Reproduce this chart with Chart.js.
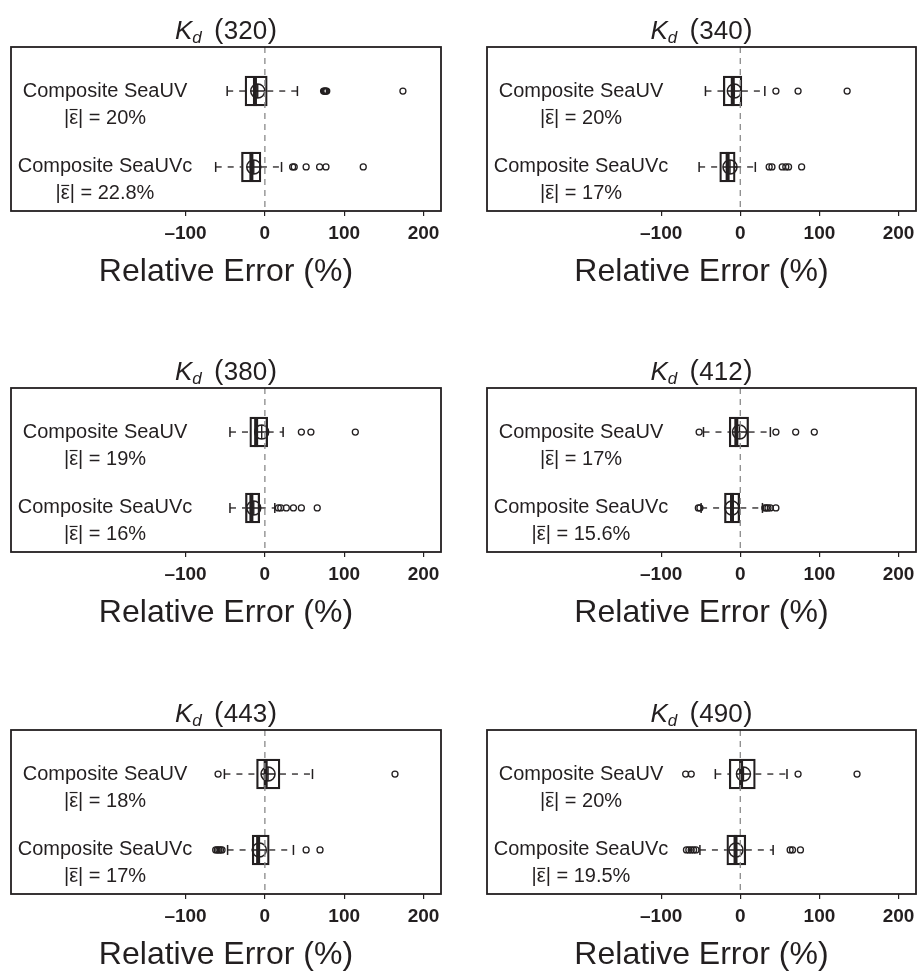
<!DOCTYPE html>
<html>
<head>
<meta charset="utf-8">
<script src="https://cdn.jsdelivr.net/npm/chart.js@4.4.1/dist/chart.umd.min.js"></script>
<style>
  html, body { margin: 0; padding: 0; background: #fff; overflow: hidden; }
  #page { position: relative; width: 917px; height: 971px; background: #fff; }
  #page canvas { position: absolute; }
</style>
</head>
<body>
<div id="page"></div>
<script>
// Kd wavelengths (nm), one panel each
const wavelengths = ['320', '340', '380', '412', '443', '490'];
// products compared in every panel (top, bottom)
const products = ['Composite SeaUV', 'Composite SeaUVc'];
// mean absolute relative error |ε̄| (%)
const meanAbsErr = [['20', '22.8'], ['20', '17'], ['19', '16'], ['17', '15.6'], ['18', '17'], ['20', '19.5']];
// box-plot statistics of the relative error (%), [SeaUV, SeaUVc]
const whiskerLow  = [[-47.5, -62], [-44, -52], [-44, -44], [-46.5, -49.5], [-51, -47], [-31.5, -51]];
const quartile1   = [[-25, -29.5], [-21.5, -26], [-19, -24.5], [-14, -20], [-10.5, -16], [-14, -17]];
const medians     = [[-12.5, -17], [-9.5, -16], [-11, -17], [-5, -10.5], [1, -8.5], [1, -6]];
const quartile3   = [[3, -5], [2, -6.5], [3.5, -6.5], [10.5, 0], [19, 5.5], [19, 7]];
const whiskerHigh = [[41, 21], [31, 19], [23, 12.5], [38, 28], [60, 36], [59, 41.5]];
const means       = [[-9, -14], [-7.5, -13], [-4, -14], [-1, -10.5], [4, -7], [4, -5.5]];
const outliers = [
  [[74, 75, 76, 77, 78, 174], [35, 37, 52, 69, 77, 124]],
  [[45, 73, 135], [36.5, 40, 53, 57.5, 61, 77.5]],
  [[46, 58, 114], [17, 20, 27, 36, 46, 66]],
  [[-52, 45, 70, 93.5], [-53, -51, 31, 33, 35, 38, 45]],
  [[-59, 164], [-62, -60, -58, -56, -54, 52, 69.5]],
  [[-69, -62, 73, 147.5], [-68, -65, -62, -59, -56, 63, 66, 76]]
];
// x-axis tick values
const tickValues = [-100, 0, 100, 200];

const FONT = '"Liberation Sans", Arial, Helvetica, sans-serif';
const INK = '#231f20';
const X_MIN = -320, X_MAX = 222;
const Y_MIN = 0.42, Y_MAX = 2.58;

// page placement of each panel canvas
const colLeft = [0, 458];
const colWidth = [458, 459];
const colPad = [{ left: 11, right: 17 }, { left: 29, right: 1 }];
const rowTop = [0, 341, 683];
const CANVAS_H = 301;

// frame around the plotting region
const framePlugin = {
  id: 'frame',
  afterDatasetsDraw(chart) {
    const { ctx, chartArea: a } = chart;
    ctx.save();
    ctx.strokeStyle = INK;
    ctx.lineWidth = 1.8;
    ctx.strokeRect(a.left, a.top, a.right - a.left, a.bottom - a.top);
    ctx.restore();
  }
};

// "K_d (λ)" heading with italic K and subscript d
const headingPlugin = {
  id: 'heading',
  afterDraw(chart, args, opts) {
    const { ctx, chartArea: a } = chart;
    const base = a.top - 8.5;
    const parts = [
      { t: 'K', f: 'italic 26px ' + FONT, dy: 0, gap: 0 },
      { t: 'd', f: 'italic 17px ' + FONT, dy: 4.5, gap: 0 },
      { t: ' ', f: '26px ' + FONT, dy: 0, gap: 5 },
      { t: '(', f: '28px ' + FONT, dy: -0.5, gap: 0.5 },
      { t: opts.text, f: '26px ' + FONT, dy: 0, gap: 0.5 },
      { t: ')', f: '28px ' + FONT, dy: -0.5, gap: 0 }
    ];
    ctx.save();
    ctx.fillStyle = INK;
    ctx.textBaseline = 'alphabetic';
    ctx.textAlign = 'left';
    let total = 0;
    parts.forEach(p => { ctx.font = p.f; p.w = ctx.measureText(p.t).width + p.gap; total += p.w; });
    let x = (a.left + a.right) / 2 - total / 2;
    parts.forEach(p => { ctx.font = p.f; ctx.fillText(p.t, x, base + p.dy); x += p.w; });
    ctx.restore();
  }
};

// product names and |ε̄| values beside each box
const rowLabelPlugin = {
  id: 'rowLabels',
  afterDraw(chart, args, opts) {
    const { ctx, chartArea: a, scales } = chart;
    const cx = a.left + 94;
    ctx.save();
    ctx.fillStyle = INK;
    ctx.strokeStyle = INK;
    ctx.textBaseline = 'middle';
    ctx.font = '20px ' + FONT;
    products.forEach((name, g) => {
      const y = scales.y.getPixelForValue(g + 1);
      ctx.textAlign = 'center';
      ctx.fillText(name, cx, y);
      const pre = '|', eps = 'ε', post = '| = ' + opts.errors[g] + '%';
      const wPre = ctx.measureText(pre).width;
      const wEps = ctx.measureText(eps).width;
      const wPost = ctx.measureText(post).width;
      const total = wPre + wEps + wPost;
      const x0 = cx - total / 2;
      const y2 = y + 27;
      ctx.textAlign = 'left';
      ctx.fillText(pre, x0, y2);
      ctx.fillText(eps, x0 + wPre, y2);
      ctx.fillText(post, x0 + wPre + wEps, y2);
      // bar over epsilon
      ctx.lineWidth = 1.2;
      ctx.beginPath();
      ctx.moveTo(x0 + wPre + 0.5, y2 - 8.5);
      ctx.lineTo(x0 + wPre + wEps - 0.5, y2 - 8.5);
      ctx.stroke();
    });
    ctx.restore();
  }
};

function panelDatasets(p) {
  const rows = products.map((_, g) => g + 1);
  const sets = [];
  // zero-error reference line
  sets.push({
    type: 'line', data: [{ x: 0, y: Y_MIN }, { x: 0, y: Y_MAX }],
    borderColor: '#8a8a8a', borderWidth: 1.3, borderDash: [6, 5], pointRadius: 0
  });
  // dashed whiskers
  rows.forEach((y, g) => {
    sets.push({
      type: 'line', data: [{ x: whiskerLow[p][g], y }, { x: quartile1[p][g], y }],
      borderColor: INK, borderWidth: 1.3, borderDash: [6, 6], pointRadius: 0
    });
    sets.push({
      type: 'line', data: [{ x: quartile3[p][g], y }, { x: whiskerHigh[p][g], y }],
      borderColor: INK, borderWidth: 1.3, borderDash: [6, 6], pointRadius: 0
    });
  });
  // interquartile boxes
  sets.push({
    type: 'bar', indexAxis: 'y',
    data: rows.map((y, g) => ({ x: [quartile1[p][g], quartile3[p][g]], y })),
    backgroundColor: 'rgba(0,0,0,0)', borderColor: INK, borderWidth: 1.6,
    borderSkipped: false, barThickness: 30
  });
  // whisker caps
  sets.push({
    type: 'scatter',
    data: rows.flatMap((y, g) => [{ x: whiskerLow[p][g], y }, { x: whiskerHigh[p][g], y }]),
    pointStyle: 'line', pointRotation: 90, pointRadius: 5,
    pointBorderColor: INK, pointBorderWidth: 1.5
  });
  // medians
  sets.push({
    type: 'scatter',
    data: rows.map((y, g) => ({ x: medians[p][g], y })),
    pointStyle: 'line', pointRotation: 90, pointRadius: 15,
    pointBorderColor: INK, pointBorderWidth: 4
  });
  // means (circle with cross)
  sets.push({
    type: 'scatter',
    data: rows.map((y, g) => ({ x: means[p][g], y })),
    pointStyle: 'circle', pointRadius: 7,
    pointBorderColor: INK, pointBorderWidth: 1.5, pointBackgroundColor: 'rgba(0,0,0,0)'
  });
  sets.push({
    type: 'scatter',
    data: rows.map((y, g) => ({ x: means[p][g], y })),
    pointStyle: 'cross', pointRadius: 7,
    pointBorderColor: INK, pointBorderWidth: 1.4
  });
  // outliers
  sets.push({
    type: 'scatter',
    data: rows.flatMap((y, g) => outliers[p][g].map(x => ({ x, y }))),
    pointStyle: 'circle', pointRadius: 3,
    pointBorderColor: INK, pointBorderWidth: 1.3, pointBackgroundColor: 'rgba(0,0,0,0)'
  });
  return sets;
}

const page = document.getElementById('page');
wavelengths.forEach((wl, p) => {
  const col = p % 2, row = Math.floor(p / 2);
  const cv = document.createElement('canvas');
  cv.width = colWidth[col];
  cv.height = CANVAS_H;
  cv.style.left = colLeft[col] + 'px';
  cv.style.top = rowTop[row] + 'px';
  cv.style.width = colWidth[col] + 'px';
  cv.style.height = CANVAS_H + 'px';
  page.appendChild(cv);

  new Chart(cv, {
    type: 'scatter',
    data: { datasets: panelDatasets(p) },
    options: {
      responsive: false,
      animation: false,
      events: [],
      layout: {
        autoPadding: false,
        padding: { top: 47, left: colPad[col].left, right: colPad[col].right, bottom: 0 }
      },
      scales: {
        x: {
          type: 'linear', min: X_MIN, max: X_MAX, offset: false, beginAtZero: false,
          afterBuildTicks: s => { s.ticks = tickValues.map(v => ({ value: v })); },
          afterFit: s => { s.height = 90; s.paddingLeft = 0; s.paddingRight = 0; },
          border: { display: false },
          grid: { display: true, offset: false, drawOnChartArea: false, drawTicks: true, tickLength: 5, color: INK, lineWidth: 1.2 },
          ticks: {
            autoSkip: false, maxRotation: 0, padding: 6, color: INK,
            font: { family: FONT, size: 19, weight: 'bold' },
            callback: v => (v < 0 ? '\u2013' + Math.abs(v) : String(v))
          },
          title: {
            display: true, text: 'Relative Error (%)', color: INK,
            font: { family: FONT, size: 32 }, padding: { top: 0, bottom: 10 }
          }
        },
        y: {
          type: 'linear', display: false, min: Y_MIN, max: Y_MAX, reverse: true,
          offset: false, grace: 0, grid: { offset: false }
        }
      },
      plugins: {
        legend: { display: false },
        tooltip: { enabled: false },
        colors: { enabled: false },
        heading: { text: wl },
        rowLabels: { errors: meanAbsErr[p] }
      }
    },
    plugins: [framePlugin, headingPlugin, rowLabelPlugin]
  });
});
</script>
</body>
</html>
